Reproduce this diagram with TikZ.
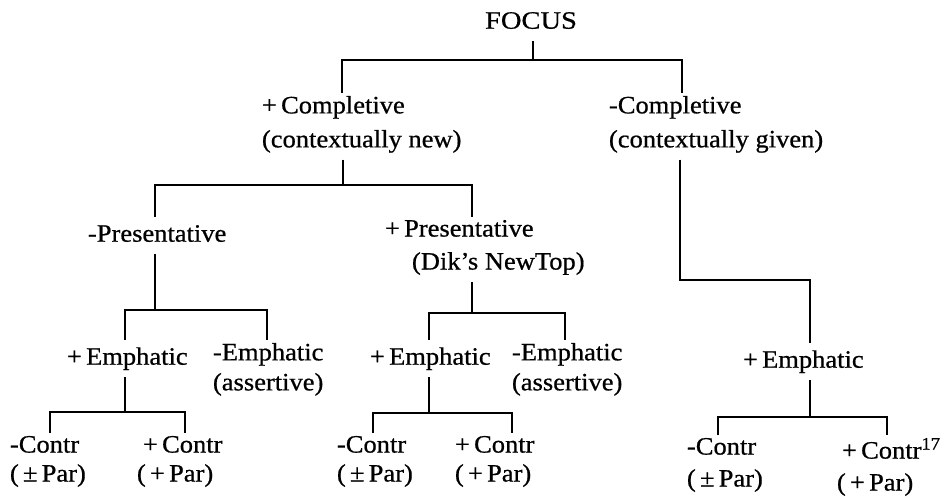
\documentclass[tikz,border=0pt]{standalone}
\usepackage{fontspec}
\setmainfont[FakeStretch=1.06, FakeBold=0.7]{Liberation Serif}

\begin{document}
\begin{tikzpicture}[x=1pt, y=-1pt,
    lbl/.style={anchor=north west, align=left, inner sep=0pt, outer xsep=0pt, outer ysep=3pt,
        font=\fontsize{25}{31}\selectfont,
        execute at begin node=\strut, execute at end node=\strut},
    branch/.style={line width=2.2pt}]
    \useasboundingbox (0,0) rectangle (947,500);

    % labels
    \node[lbl, anchor=north] (focus) at (531,4) {\addfontfeature{FakeStretch=1.14}FOCUS};
    \node[lbl] (pcompl) at (262,93) {+\,Completive\\[3pt](contextually new)};
    \node[lbl] (mcompl) at (609,93) {-Completive\\[3pt](contextually given)};
    \node[lbl] (mpres) at (88,217) {-Presentative};
    \node[lbl] (ppres) at (385,217) {+\,Presentative\\[2pt]\hspace*{27pt}(Dik's NewTop)};
    \node[lbl] (lpemph) at (67,340) {+\,Emphatic};
    \node[lbl] (lmemph) at (213,340) {-Emphatic\\[-1pt](assertive)};
    \node[lbl] (mpemph) at (370,340) {+\,Emphatic};
    \node[lbl] (mmemph) at (512,340) {-Emphatic\\[-1pt](assertive)};
    \node[lbl] (rpemph) at (743,343) {+\,Emphatic};
    \node[lbl] (lmcontr) at (10,433) {-Contr\\[-2pt](\,±\,Par)};
    \node[lbl] (lpcontr) at (137,433) {\hspace*{6pt}+\,Contr\\[-2pt](\,+\,Par)};
    \node[lbl] (mmcontr) at (337,433) {-Contr\\[-2pt](\,±\,Par)};
    \node[lbl] (mpcontr) at (455,433) {+\,Contr\\[-2pt](\,+\,Par)};
    \node[lbl] (rmcontr) at (687,435) {-Contr\\[1pt](\,±\,Par)};
    \node[lbl] (rpcontr) at (837,435) {\hspace*{5pt}+\,Contr\textsuperscript{17}\\[1pt](\,+\,Par)};

    % junctions
    \coordinate (j1) at (533,60);
    \coordinate (j2) at (343,185);
    \coordinate (j3) at (155,310);
    \coordinate (j4) at (125,412);
    \coordinate (j5) at (472,313);
    \coordinate (j6) at (429,413);
    \coordinate (j7) at (680,280);
    \coordinate (j8) at (810,417);

    % branches
    \draw[branch] (focus.south -| j1) -- (j1);
    \draw[branch] (pcompl.north -| 342,0) |- (j1) -| (mcompl.north -| 682,0);
    \draw[branch] (pcompl.south -| j2) -- (j2);
    \draw[branch] (mpres.north -| 155,0) |- (j2) -| (ppres.north -| 472,0);
    \draw[branch] (mpres.south -| j3) -- (j3);
    \draw[branch] (lpemph.north -| 125,0) |- (j3) -| (lmemph.north -| 267,0);
    \draw[branch] (lpemph.south -| j4) -- (j4);
    \draw[branch] (lmcontr.north -| 50,0) |- (j4) -| (lpcontr.north -| 185,0);
    \draw[branch] (ppres.south -| j5) -- (j5);
    \draw[branch] (mpemph.north -| 429,0) |- (j5) -| (mmemph.north -| 565,0);
    \draw[branch] (mpemph.south -| j6) -- (j6);
    \draw[branch] (mmcontr.north -| 373,0) |- (j6) -| (mpcontr.north -| 512,0);
    \draw[branch] (mcompl.south -| j7) -- (j7) -| (rpemph.north -| 810,0);
    \draw[branch] (rpemph.south -| j8) -- (j8);
    \draw[branch] (rmcontr.north -| 718,0) |- (j8) -| (rpcontr.north -| 887,0);
\end{tikzpicture}
\end{document}
